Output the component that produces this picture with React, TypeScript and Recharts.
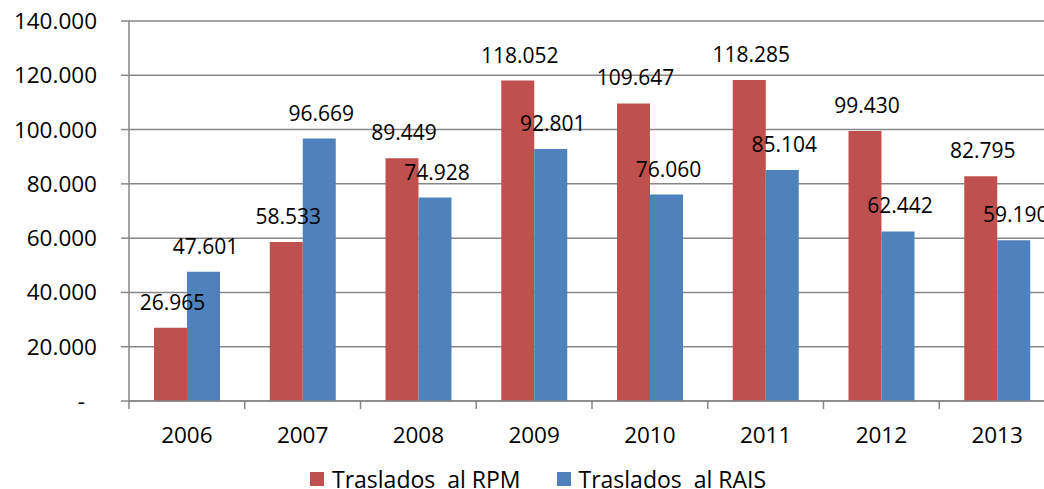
import { BarChart, Bar, XAxis, YAxis, CartesianGrid, LabelList } from 'recharts';

// Traslados entre regímenes por año
const YEARS = ['2006', '2007', '2008', '2009', '2010', '2011', '2012', '2013'];
const RPM = [26965, 58533, 89449, 118052, 109647, 118285, 99430, 82795];
const RAIS = [47601, 96669, 74928, 92801, 76060, 85104, 62442, 59190];
const Y_TICKS = [0, 20000, 40000, 60000, 80000, 100000, 120000, 140000];

const RED = '#C0504D';
const BLUE = '#4F81BD';
const AXIS_GRAY = '#878787';
const FONT = '"Open Sans", sans-serif';

const TICK_SIZE = 8;
const X_TICK_MARGIN = 18;

const data = YEARS.map((year, i) => ({ year, rpm: RPM[i], rais: RAIS[i] }));

const fmt = (n: number) => String(n).replace(/\B(?=(\d{3})+(?!\d))/g, '.');

function YTick(props: any) {
  const { x, y, payload } = props;
  const v = payload.value as number;
  return (
    <text
      x={v === 0 ? x - 12 : x}
      y={y}
      dy="0.355em"
      textAnchor="end"
      fontFamily={FONT}
      fontSize={22.5}
      fill="#000"
    >
      {v === 0 ? '-' : fmt(v)}
    </text>
  );
}

function YearTick(props: any) {
  const { x, y, payload } = props;
  const half = payload.offset ?? 0;
  const top = y - X_TICK_MARGIN - TICK_SIZE;
  const isLast = payload.index === YEARS.length - 1;
  return (
    <g>
      <line x1={x - half} x2={x - half} y1={top} y2={top + TICK_SIZE} stroke={AXIS_GRAY} strokeWidth={1.5} />
      {isLast && (
        <line x1={x + half} x2={x + half} y1={top} y2={top + TICK_SIZE} stroke={AXIS_GRAY} strokeWidth={1.5} />
      )}
      <text x={x} y={y} dy="0.71em" textAnchor="middle" fontFamily={FONT} fontSize={22.5} fill="#000">
        {payload.value}
      </text>
    </g>
  );
}

// etiqueta de dato, un poco por encima del extremo de la barra
function ValueLabel(props: any) {
  const { x, y, width, value } = props;
  return (
    <text
      x={x + width / 2 + 2}
      y={y - 25.5}
      dy="0.355em"
      textAnchor="middle"
      fontFamily={FONT}
      fontSize={21}
      fill="#000"
    >
      {fmt(value)}
    </text>
  );
}

function LegendItem({ color, label }: { color: string; label: string }) {
  return (
    <span style={{ display: 'flex', alignItems: 'center' }}>
      <span style={{ display: 'inline-block', width: 14, height: 14, background: color, marginRight: 8 }} />
      <span style={{ whiteSpace: 'pre' }}>{label}</span>
    </span>
  );
}

export default function App() {
  return (
    <div
      style={{
        position: 'fixed',
        left: 0,
        top: 0,
        width: 1044,
        height: 489,
        overflow: 'hidden',
        background: '#fff',
      }}
    >
      <BarChart
        width={1060}
        height={489}
        data={data}
        margin={{ top: 21, right: 5, bottom: 0, left: 0 }}
        barCategoryGap="21.6%"
        barGap={0}
      >
        <CartesianGrid vertical={false} stroke={AXIS_GRAY} strokeWidth={1.5} />
        <XAxis
          dataKey="year"
          height={88}
          axisLine={{ stroke: AXIS_GRAY, strokeWidth: 1.5 }}
          tickLine={false}
          tickSize={TICK_SIZE}
          tickMargin={X_TICK_MARGIN}
          interval={0}
          tick={<YearTick />}
        />
        <YAxis
          width={129}
          domain={[0, 140000]}
          ticks={Y_TICKS}
          interval={0}
          axisLine={{ stroke: AXIS_GRAY, strokeWidth: 1.5 }}
          tickLine={{ stroke: AXIS_GRAY, strokeWidth: 1.5 }}
          tickSize={TICK_SIZE}
          tickMargin={24}
          tick={<YTick />}
        />
        <Bar dataKey="rpm" fill={RED} isAnimationActive={false}>
          <LabelList dataKey="rpm" content={<ValueLabel />} />
        </Bar>
        <Bar dataKey="rais" fill={BLUE} isAnimationActive={false}>
          <LabelList dataKey="rais" content={<ValueLabel />} />
        </Bar>
      </BarChart>

      {/* leyenda */}
      <div
        style={{
          position: 'absolute',
          left: 310,
          top: 469,
          height: 20,
          display: 'flex',
          gap: 36,
          fontFamily: FONT,
          fontSize: 23,
          lineHeight: '20px',
          color: '#000',
        }}
      >
        <LegendItem color={RED} label="Traslados  al RPM" />
        <LegendItem color={BLUE} label="Traslados  al RAIS" />
      </div>
    </div>
  );
}
